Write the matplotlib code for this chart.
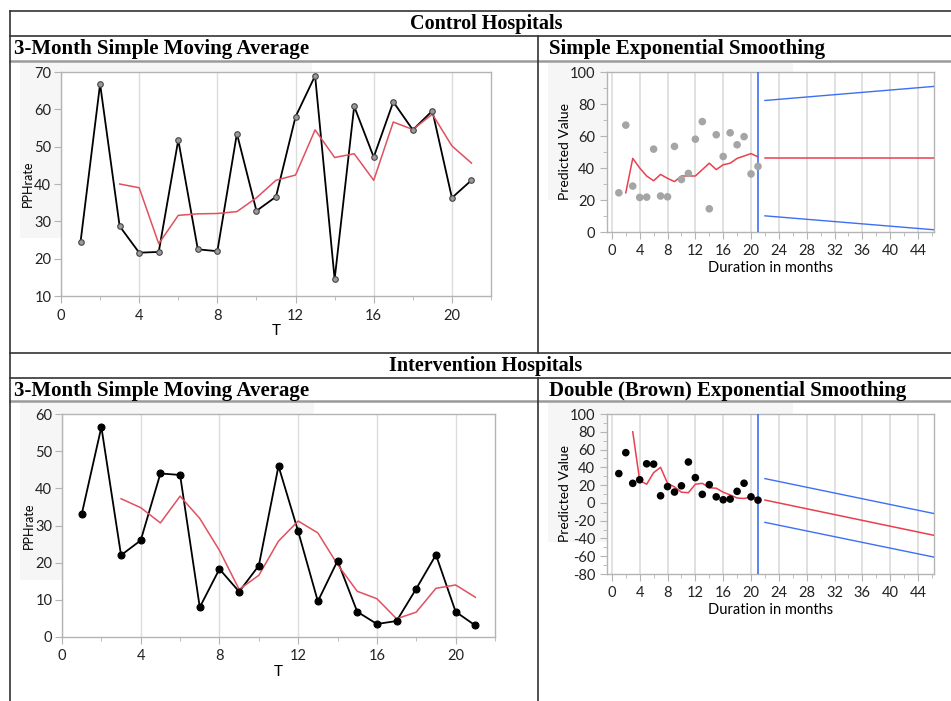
import matplotlib
matplotlib.use("Agg")
import matplotlib.pyplot as plt
from matplotlib.lines import Line2D
from matplotlib.patches import Rectangle
from matplotlib.ticker import MultipleLocator

plt.rcParams["axes.unicode_minus"] = False

W, H = 951, 701

# ---- data ----
months = list(range(1, 22))

control_rate = [24.5, 66.8, 28.7, 21.6, 21.8, 51.8, 22.5, 22.0, 53.5, 32.8, 36.6,
                58.0, 69.0, 14.5, 60.8, 47.2, 62.0, 54.5, 59.6, 36.3, 41.0]
control_ma_t = list(range(3, 22))
control_ma = [40.0, 39.0, 24.0, 31.6, 32.0, 32.1, 32.6, 36.3, 41.0, 42.4, 54.5,
              47.1, 48.1, 41.0, 56.6, 54.6, 58.7, 50.2, 45.6]
control_ses_t = list(range(2, 22))
control_ses = [24.5, 46.0, 40.0, 35.0, 32.0, 36.0, 33.5, 31.5, 35.0, 35.0, 35.0,
               39.0, 43.0, 39.0, 42.0, 43.0, 46.0, 47.5, 49.0, 47.0]
forecast_t = [22, 46.3]
control_fc = [46.0, 46.0]
control_fc_hi = [82.2, 91.0]
control_fc_lo = [10.1, 1.4]

interv_rate = [33.0, 56.5, 22.0, 26.0, 44.0, 43.6, 8.0, 18.3, 12.2, 19.2, 46.0,
               28.4, 9.6, 20.5, 6.8, 3.5, 4.3, 13.0, 22.1, 6.8, 3.1]
interv_ma_t = list(range(3, 22))
interv_ma = [37.2, 34.8, 30.7, 37.9, 31.9, 23.3, 12.8, 16.6, 25.8, 31.2, 28.0,
             19.5, 12.3, 10.3, 4.9, 6.7, 13.1, 14.0, 10.7]
interv_des_t = list(range(3, 22))
interv_des = [80.0, 25.0, 21.0, 34.0, 40.0, 22.0, 18.0, 12.0, 11.5, 21.0, 22.0,
              17.0, 16.5, 12.0, 9.0, 5.5, 5.0, 6.5, 5.0]
interv_fc = [3.2, -36.5]
interv_fc_hi = [27.3, -12.0]
interv_fc_lo = [-21.9, -61.0]

RED = "#e8404f"
RED_MA = "#e0505f"
BLUE = "#3d6ff5"
SPINE = "#b4b4b4"
GRID = "#dcdcdc"

sans = ["Lato", "DejaVu Sans"]
serif = ["Liberation Serif", "DejaVu Serif"]

fig = plt.figure(figsize=(W / 100, H / 100), dpi=100)


def px_axes(x0, y0, x1, y1):
    return fig.add_axes([x0 / W, 1 - y1 / H, (x1 - x0) / W, (y1 - y0) / H])


def hline(y, x0, x1, color="#333333", lw=1.2):
    fig.add_artist(Line2D([x0 / W, x1 / W], [1 - y / H, 1 - y / H], color=color, lw=lw))


def vline(x, y0, y1, color="#333333", lw=1.2):
    fig.add_artist(Line2D([x / W, x / W], [1 - y0 / H, 1 - y1 / H], color=color, lw=lw))


def shade(x0, y0, x1, y1):
    fig.add_artist(Rectangle((x0 / W, 1 - y1 / H), (x1 - x0) / W, (y1 - y0) / H,
                             facecolor="#f6f6f6", edgecolor="none", zorder=-5))


def style_axes(ax, size, pad):
    for s in ax.spines.values():
        s.set_color(SPINE)
        s.set_linewidth(1.0)
    ax.tick_params(which="both", direction="out", color=SPINE, labelcolor="#222222",
                   labelsize=size, pad=pad)
    ax.tick_params(which="major", length=5)
    ax.tick_params(which="minor", length=3)
    for lab in ax.get_xticklabels() + ax.get_yticklabels():
        lab.set_family(sans)
    ax.set_axisbelow(True)


def place_labels(ax, xy_x, xy_y):
    ax.xaxis.set_label_coords(0.5, xy_x)
    ax.yaxis.set_label_coords(xy_y, 0.5)
    ax.xaxis.label.set_va("center")
    ax.yaxis.label.set_va("center")


# ---- table frame ----
hline(11, 10, W)
hline(36, 10, W)
hline(61, 10, W, color="#9a9a9a", lw=1.8)
hline(353, 10, W)
hline(378, 10, W)
hline(401, 10, W, color="#9a9a9a", lw=1.8)
vline(10, 11, H)
vline(538, 36, 353)
vline(538, 378, H)

fig.text(486 / W, 1 - 24 / H, "Control Hospitals", ha="center", va="center",
         family=serif, weight="bold", fontsize=14.5)
fig.text(486 / W, 1 - 366 / H, "Intervention Hospitals", ha="center", va="center",
         family=serif, weight="bold", fontsize=14.5)
fig.text(14 / W, 1 - 49 / H, "3-Month Simple Moving Average", ha="left", va="center",
         family=serif, weight="bold", fontsize=15)
fig.text(549 / W, 1 - 49 / H, "Simple Exponential Smoothing", ha="left", va="center",
         family=serif, weight="bold", fontsize=15)
fig.text(14 / W, 1 - 391 / H, "3-Month Simple Moving Average", ha="left", va="center",
         family=serif, weight="bold", fontsize=15)
fig.text(549 / W, 1 - 391 / H, "Double (Brown) Exponential Smoothing", ha="left",
         va="center", family=serif, weight="bold", fontsize=15)

shade(20, 63, 312, 238)
shade(548, 63, 793, 200)
shade(20, 403, 314, 580)
shade(548, 403, 793, 542)


def moving_average_panel(ax, rate, ma_t, ma, ylim, mfc, mec, msize):
    ax.plot(months, rate, color="black", lw=1.3, zorder=3)
    ax.plot(months, rate, "o", ms=msize, mfc=mfc, mec=mec, mew=0.8, zorder=4)
    ax.plot(ma_t, ma, color=RED_MA, lw=1.1, zorder=3)
    ax.set_xlim(0, 22)
    ax.set_ylim(*ylim)
    ax.xaxis.set_major_locator(MultipleLocator(4))
    ax.xaxis.set_minor_locator(MultipleLocator(2))
    ax.yaxis.set_major_locator(MultipleLocator(10))
    ax.grid(axis="x", which="major", color=GRID, lw=1.0)
    style_axes(ax, 10.5, 2)
    ax.tick_params(axis="x", pad=4)
    ax.set_xlabel("T", family=sans, fontsize=11)
    ax.set_ylabel("PPHrate", family=sans, fontsize=9)
    place_labels(ax, -0.156, -0.076)


def smoothing_panel(ax, rate, fit_t, fit, fc, hi, lo, ylim, ystep, dot):
    ax.scatter(months, rate, s=30, color=dot, edgecolor="none", zorder=4)
    ax.plot(fit_t, fit, color=RED, lw=1.1, zorder=3)
    ax.plot(forecast_t, fc, color=RED, lw=1.1, zorder=3)
    ax.plot(forecast_t, hi, color=BLUE, lw=1.0, zorder=3)
    ax.plot(forecast_t, lo, color=BLUE, lw=1.0, zorder=3)
    ax.axvline(21, color=BLUE, lw=1.2, zorder=3)
    ax.set_xlim(-0.7, 46.3)
    ax.set_ylim(*ylim)
    ax.xaxis.set_major_locator(MultipleLocator(4))
    ax.xaxis.set_minor_locator(MultipleLocator(2))
    ax.yaxis.set_major_locator(MultipleLocator(ystep))
    ax.yaxis.set_minor_locator(MultipleLocator(ystep / 2))
    ax.grid(axis="x", which="major", color=GRID, lw=1.2)
    style_axes(ax, 10.5, 3.5)
    ax.set_xlabel("Duration in months", family=sans, fontsize=10.5)
    ax.set_ylabel("Predicted Value", family=sans, fontsize=10)
    place_labels(ax, -0.225, -0.128)


ax1 = px_axes(61, 72, 491, 296)
moving_average_panel(ax1, control_rate, control_ma_t, control_ma, (10, 70),
                     "#9a9a9a", "#444444", 4)

ax2 = px_axes(607, 72, 934, 232)
smoothing_panel(ax2, control_rate, control_ses_t, control_ses, control_fc,
                control_fc_hi, control_fc_lo, (0, 100), 20, "#a5a5a5")

ax3 = px_axes(62, 414, 495, 637)
moving_average_panel(ax3, interv_rate, interv_ma_t, interv_ma, (0, 60),
                     "black", "black", 5)

ax4 = px_axes(607, 414, 934, 574)
smoothing_panel(ax4, interv_rate, interv_des_t, interv_des, interv_fc,
                interv_fc_hi, interv_fc_lo, (-80, 100), 20, "black")

fig.savefig("out.png", dpi=100)
